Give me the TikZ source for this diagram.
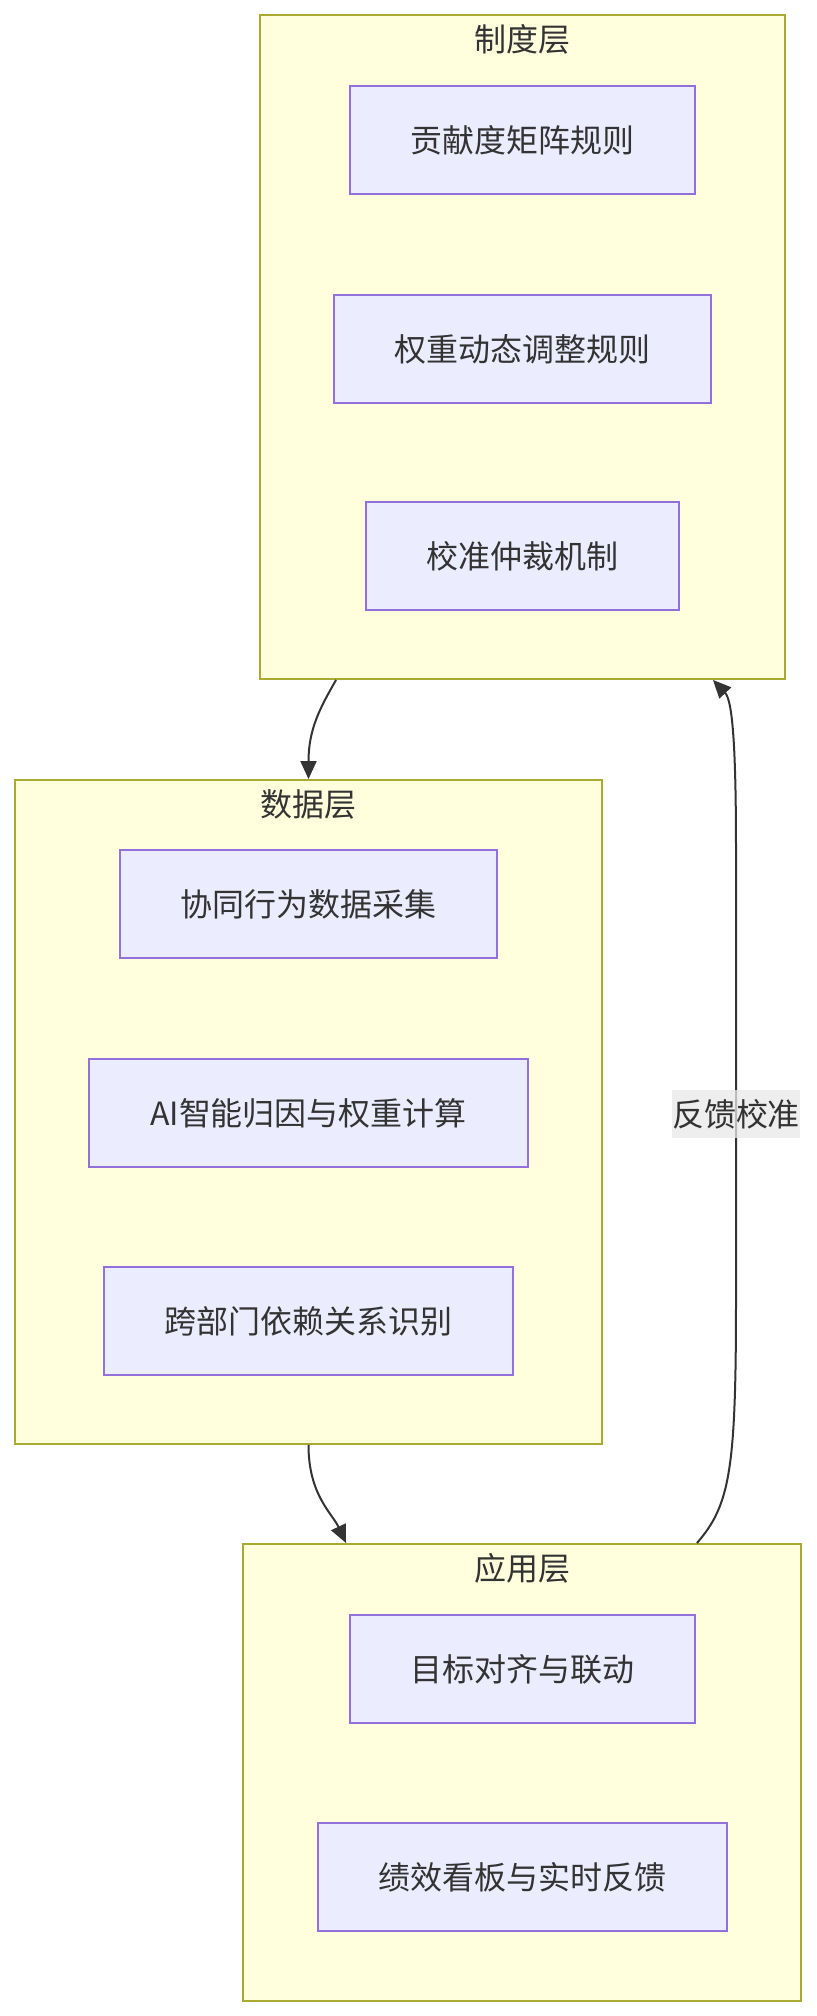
\documentclass[tikz,border=0pt]{standalone}
\usepackage{fontspec}
\setmainfont{Noto Sans CJK SC}
\usetikzlibrary{arrows.meta}
\definecolor{layerfill}{HTML}{FFFFDE}
\definecolor{layerline}{HTML}{AAAA33}
\definecolor{boxfill}{HTML}{ECECFF}
\definecolor{boxline}{HTML}{9370DB}
\definecolor{inkgray}{HTML}{333333}
\definecolor{tagfill}{HTML}{E8E8E8}

\begin{document}
\begin{tikzpicture}[x=0.02cm,y=-0.02cm,>={Triangle[length=0.36cm,width=0.32cm]},
	  layer/.style={draw=layerline,fill=layerfill,line width=0.04cm,inner sep=0pt},
	  box/.style={draw=boxline,fill=boxfill,line width=0.04cm,minimum height=2.16cm,
	    inner xsep=1.22cm,text=inkgray,font=\fontsize{18.2}{22}\selectfont},
	  title/.style={text=inkgray,inner sep=0pt,font=\fontsize{18.2}{22}\selectfont},
	  link/.style={draw=inkgray,line width=0.04cm},
	  tag/.style={fill=tagfill,fill opacity=0.75,text opacity=1,text=inkgray,inner xsep=0pt,
	    minimum height=0.96cm,font=\fontsize{18.2}{22}\selectfont}]
	  \useasboundingbox (0,0) rectangle (817,2016);
	  % layers
	  \node[layer,minimum width=10.5cm,minimum height=13.28cm] (zhidu) at (522.5,347) {};
	  \node[layer,minimum width=11.74cm,minimum height=13.28cm] (shuju) at (308.5,1112) {};
	  \node[layer,minimum width=11.17cm,minimum height=9.14cm] (yingyong) at (522.25,1772.5) {};
	  \node[title] (t1) at (522.5,39) {制度层};
	  \node[title] (t2) at (308.5,804) {数据层};
	  \node[title] (t3) at (522.25,1568) {应用层};
	  % boxes
	  \node[box] (juzhen) at (522.5,140) {贡献度矩阵规则};
	  \node[box] (quanzhong) at (522.5,349) {权重动态调整规则};
	  \node[box] (zhongcai) at (522.5,556) {校准仲裁机制};
	  \node[box] (caiji) at (308.5,904) {协同行为数据采集};
	  \node[box] (guiyin) at (308.5,1113) {AI智能归因与权重计算};
	  \node[box] (yilai) at (308.5,1321) {跨部门依赖关系识别};
	  \node[box] (duiqi) at (522.5,1669) {目标对齐与联动};
	  \node[box] (kanban) at (522.5,1877) {绩效看板与实时反馈};
	  % links
	  \draw[link,->] ([xshift=1.54cm]zhidu.south west) .. controls +(-16,28) and +(0,-50) .. (shuju.north);
	  \draw[link,->] (shuju.south) .. controls +(0,50) and +(-14,-30) .. ([xshift=2.08cm]yingyong.north west);
	  \draw[link,->] ([xshift=9.1cm]yingyong.north west) .. controls (730,1505) and (736,1470) .. (736,1300)
	    -- (736,850) .. controls (736,740) and (732,700) .. ([xshift=9.08cm]zhidu.south west);
	  \node[tag] (fankui) at (736,1114) {反馈校准};
	\end{tikzpicture}
\end{document}
